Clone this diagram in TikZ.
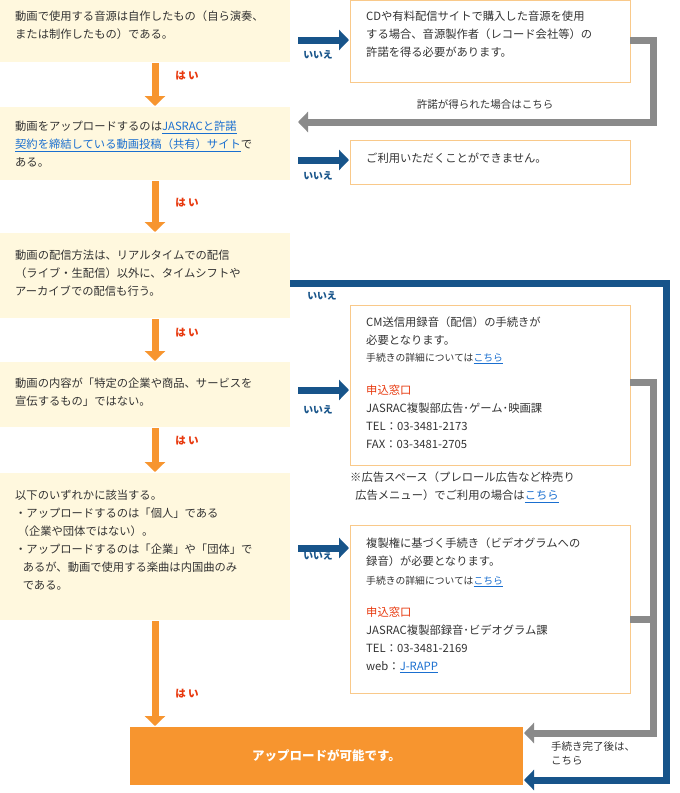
\documentclass[tikz,border=0pt]{standalone}
\usepackage{fontspec}
\setmainfont{Noto Sans CJK JP}
\usetikzlibrary{arrows.meta}
\definecolor{ybox}{HTML}{FFF8DE}
\definecolor{org}{HTML}{F7952F}
\definecolor{blu}{HTML}{17548A}
\definecolor{gry}{HTML}{8A8A8A}
\definecolor{lnk}{HTML}{1A6FD0}
\definecolor{redd}{HTML}{E8380D}
\definecolor{obrd}{HTML}{F9C98A}
\definecolor{txt}{HTML}{333333}
\newcommand{\lk}[1]{\textcolor{lnk}{\underline{#1}}}
\begin{document}
\begin{tikzpicture}[x=1pt,y=-1pt,
  t/.style={anchor=north west,align=left,inner sep=0pt,text=txt,font=\fontsize{11.3}{18}\selectfont},
  ts/.style={t,font=\fontsize{9.8}{14}\selectfont},
  yes/.style={-{Triangle[length=10pt,width=20pt]},line width=7pt,draw=org},
  no/.style={-{Triangle[length=10pt,width=20pt]},line width=7pt,draw=blu},
  gl/.style={-{Triangle[length=10pt,width=20pt]},line width=7pt,draw=gry},
  lab/.style={inner sep=0pt,font=\fontsize{9.8}{12}\selectfont},
]
\useasboundingbox (0,0) rectangle (680,793);
\fill[white] (0,0) rectangle (680,793);
% left boxes
\fill[ybox] (0,0) rectangle (290,62);
\fill[ybox] (0,107) rectangle (290,180);
\fill[ybox] (0,233) rectangle (290,318);
\fill[ybox] (0,362) rectangle (290,427);
\fill[ybox] (0,473) rectangle (290,620);
\node[t] (l1) at (15,11) {動画で使用する音源は自作したもの（自ら演奏、\\または制作したもの）である。};
\node[t] (l2) at (15,121) {動画をアップロードするのは\lk{JASRACと許諾}\\\lk{契約を締結している動画投稿（共有）サイト}で\\ある。};
\node[t] (l3) at (15,250) {動画の配信方法は、リアルタイムでの配信\\（ライブ・生配信）以外に、タイムシフトや\\アーカイブでの配信も行う。};
\node[t] (l4) at (15,378) {動画の内容が「特定の企業や商品、サービスを\\宣伝するもの」ではない。};
\node[t] (l5) at (15,490) {以下のいずれかに該当する。\\ ・アップロードするのは「個人」である\\ \ （企業や団体ではない）。\\ ・アップロードするのは「企業」や「団体」で\\ \ \ \ あるが、動画で使用する楽曲は内国曲のみ\\ \ \ \ である。};
% final box
\node[fill=org,minimum width=393pt,minimum height=58pt,inner sep=0pt,text=white,font=\bfseries\fontsize{12.5}{14}\selectfont] (fin) at (326.5,756) {アップロードが可能です。};
% yes arrows
\coordinate (y1a) at (155,63); \coordinate (y1b) at (155,106);
\coordinate (y2a) at (155,181); \coordinate (y2b) at (155,232);
\coordinate (y3a) at (155,319); \coordinate (y3b) at (155,361);
\coordinate (y4a) at (155,428); \coordinate (y4b) at (155,472);
\coordinate (y5a) at (155,621); \coordinate (y5b) at (155,726);
\foreach \a/\b in {y1a/y1b,y2a/y2b,y3a/y3b,y4a/y4b,y5a/y5b}{\draw[yes] (\a) -- (\b);}
\foreach \yy in {76,203,333,441,694}{\node[lab,text=redd,font=\bfseries\fontsize{10.5}{12}\selectfont] at (187,\yy) {は い};}
% right boxes
\draw[obrd,fill=white] (350,0) rectangle (630,82);
\draw[obrd,fill=white] (350,140) rectangle (630,184);
\draw[obrd,fill=white] (350,305) rectangle (630,465);
\draw[obrd,fill=white] (350,525) rectangle (630,693);
\node[t] (r1) at (366,11) {CDや有料配信サイトで購入した音源を使用\\する場合、音源製作者（レコード会社等）の\\許諾を得る必要があります。};
\node[t] (r2) at (366,153) {ご利用いただくことができません。};
\node[t] (r3) at (366,317) {CM送信用録音（配信）の手続きが\\必要となります。};
\node[ts] (r3b) at (366,353) {手続きの詳細については\lk{こちら}};
\node[t] (r3c) at (366,385) {\textcolor{redd}{申込窓口}\\JASRAC複製部広告･ゲーム･映画課\\TEL：03-3481-2173\\FAX：03-3481-2705};
\node[t] (note) at (350,472) {※広告スペース（プレロール広告など枠売り\\ \ \ 広告メニュー）でご利用の場合は\lk{こちら}};
\node[t] (r4) at (366,538) {複製権に基づく手続き（ビデオグラムへの\\録音）が必要となります。};
\node[ts] (r4b) at (366,576) {手続きの詳細については\lk{こちら}};
\node[t] (r4c) at (366,607) {\textcolor{redd}{申込窓口}\\JASRAC複製部録音･ビデオグラム課\\TEL：03-3481-2169\\web：\lk{J-RAPP}};
% no arrows
\foreach \yy in {40,160,390,548}{\draw[no] (298,\yy) -- (349,\yy);}
\foreach \yy in {55,176,410,556}{\node[lab,text=blu,font=\bfseries\fontsize{9.8}{12}\selectfont] at (318,\yy) {いいえ};}
\node[lab,text=blu,font=\bfseries\fontsize{9.8}{12}\selectfont] at (322,296) {いいえ};
\draw[no] (290,283.5) -- (666.5,283.5) -- (666.5,780) -- (524,780);
% gray arrows
\draw[gl] (630,40) -- (653.5,40) -- (653.5,122) -- (298,122);
\node[lab,text=txt,font=\fontsize{10.5}{12}\selectfont] at (485,104) {許諾が得られた場合はこちら};
\draw[gl] (630,382) -- (653.5,382) -- (653.5,733) -- (524,733);
\draw[line width=7pt,gry] (630,619) -- (653.5,619);
\node[t,font=\fontsize{10.5}{14}\selectfont] at (551,741) {手続き完了後は、\\こちら};
\end{tikzpicture}
\end{document}
